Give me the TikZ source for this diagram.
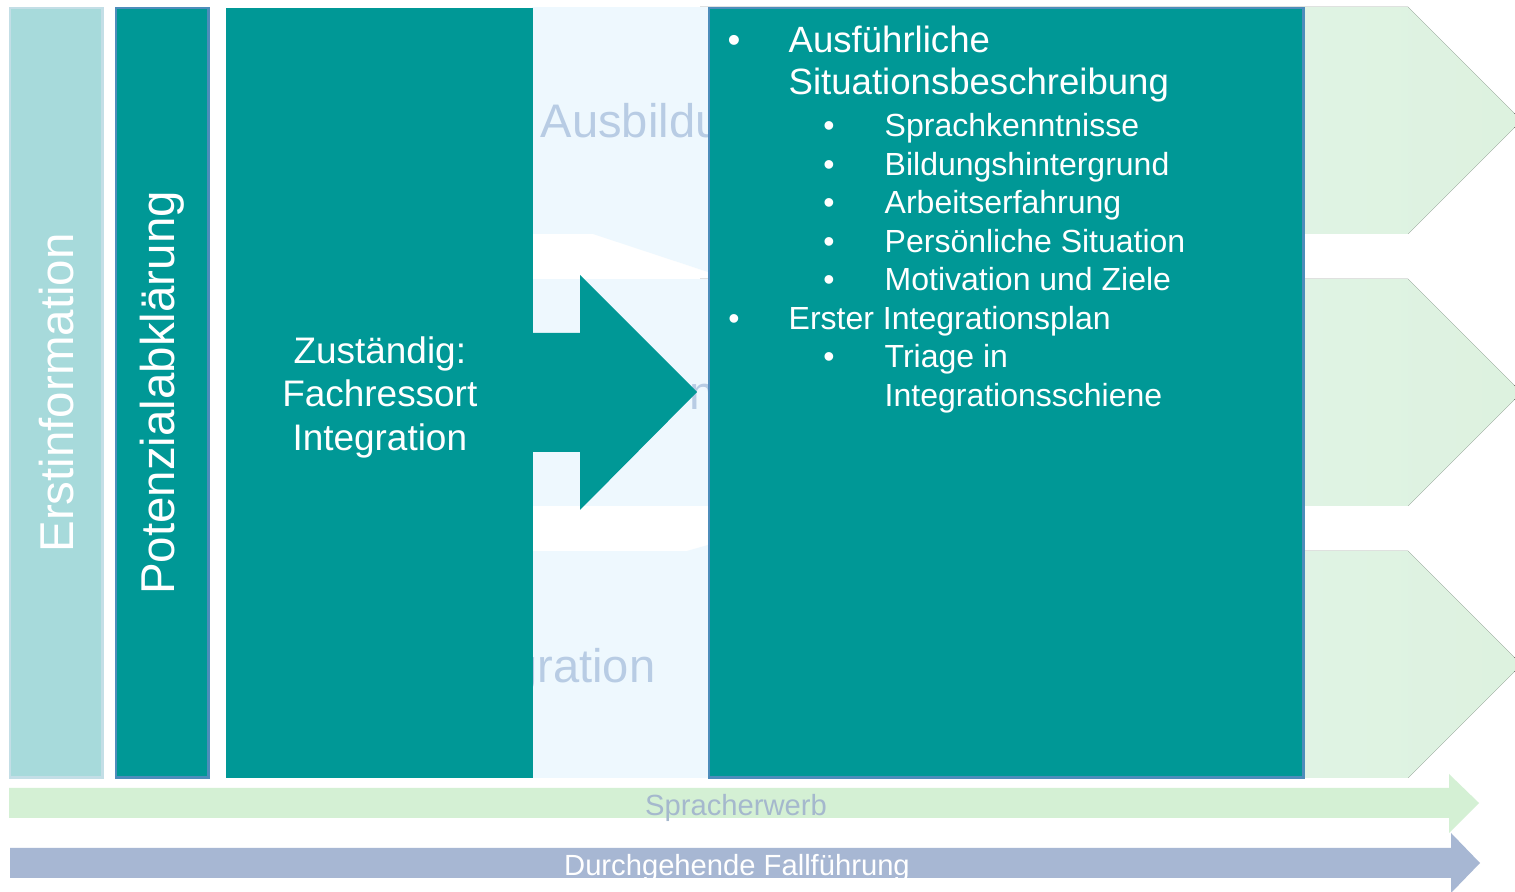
\documentclass[tikz,border=0pt]{standalone}
\usepackage{fontspec}
\setmainfont{Liberation Sans}
\usepackage{tikz}
\usetikzlibrary{positioning, calc}
\definecolor{fteal}{HTML}{009896}
\definecolor{lteal}{HTML}{A7DADB}
\definecolor{bedge}{HTML}{4D8DBB}
\definecolor{ledge}{HTML}{C3DEE6}
\definecolor{pblue}{HTML}{EEF8FE}
\definecolor{pgreen}{HTML}{DDF2DF}
\definecolor{ghost}{HTML}{B8CCE4}
\definecolor{sgreen}{HTML}{D4F0D4}
\definecolor{sblue}{HTML}{A7B7D3}

\begin{document}
\begin{tikzpicture}[x=0.01cm, y=-0.01cm,
  phase/.style={anchor=north west, minimum height=7.69cm, inner sep=0pt, line width=0.7pt},
  vlabel/.style={rotate=90, text=white, inner sep=0pt, font=\fontsize{13.5}{16}\selectfont},
  ghosttext/.style={inner sep=0pt, text=ghost, font=\fontsize{13.4}{16}\selectfont},
  topitem/.style={anchor=base west, inner sep=0pt, text=white, font=\fontsize{10.4}{12}\selectfont},
  item/.style={anchor=base west, inner sep=0pt, text=white, font=\fontsize{9.1}{11}\selectfont},
  dot/.style={anchor=base, inner sep=0pt, text=white, font=\fontsize{9.1}{11}\selectfont},
  bandtext/.style={inner sep=0pt, font=\fontsize{8.3}{10}\selectfont}]
\clip (0,0) rectangle (1515,892);
\fill[white] (0,0) rectangle (1515,892);

% Zeilen im Hintergrund
\foreach \t in {7,279,551} {
  \fill[left color=pblue!60!pgreen, right color=pgreen] (700,\t) -- (1408,\t) -- (1521.5,\t+113.5) -- (1408,\t+227) -- (700,\t+227) -- cycle;
  \fill[pblue] (532,\t) rectangle (710,\t+227);
}
\fill[pblue] (593,234) -- (708,272) -- (708,234) -- cycle;
\fill[pblue] (687,551) -- (708,545) -- (708,551) -- cycle;
\begin{scope}
\clip (532,7) rectangle (708,776);
\node[ghosttext, anchor=base west] (ausb) at (540,138) {Ausbildung};
\node[ghosttext, anchor=base west] (mid) at (689,410) {n};
\node[ghosttext, anchor=base east] (integ) at (656,683) {Integration};
\end{scope}

% Phasen
\node[phase, fill=lteal, draw=ledge, minimum width=0.92cm] (erst) at (9,7) {};
\node[phase, fill=fteal, draw=bedge, minimum width=0.92cm] (pot) at (115,7) {};
\node[phase, fill=fteal, minimum width=3.07cm] (zust) at (225,7) {};
\node[phase, fill=fteal, draw=bedge, minimum width=5.94cm] (det) at (708,7) {};
\node[vlabel] (erstlbl) at (erst.center) {Erstinformation};
\node[vlabel] (potlbl) at (pot.center) {Potenzialabklärung};
\node[align=center, text=white, font=\fontsize{10.5}{12.5}\selectfont] (zustlbl) at ($(zust.center)+(0,4.5)$) {Zuständig:\\Fachressort\\Integration};

% Pfeil
\coordinate (tip) at (697,392);
\fill[fteal] ($(zust.east |- 0,333)+(-5,0)$) -- (580,333) -- (580,275) -- (tip) -- (580,510) -- (580,452) -- ($(zust.east |- 0,452)+(-5,0)$) -- cycle;

% Inhalt
\node[dot, font=\fontsize{10.4}{12}\selectfont] (b1) at (734,53) {•};
\node[topitem] (t1) at (788,53) {Ausführliche};
\node[topitem] (t2) at (788,95) {Situationsbeschreibung};
\foreach \y/\txt [count=\i] in {137/Sprachkenntnisse, 175.5/Bildungshintergrund, 214/Arbeitserfahrung, 252.5/Persönliche Situation, 291/Motivation und Ziele} {
  \node[dot] (sb\i) at (829,\y) {•};
  \node[item] (s\i) at (884,\y) {\txt};
}
\node[dot] (b2) at (734,329.5) {•};
\node[item] (t3) at (788,329.5) {Erster Integrationsplan};
\node[dot] (sb6) at (829,368) {•};
\node[item] (s6) at (884,368) {Triage in};
\node[item] (s7) at (884,406.5) {Integrationsschiene};

% Querschnitt
\fill[sgreen] (9,788) -- (1449,788) -- (1449,774) -- (1479,803) -- (1449,833) -- (1449,818) -- (9,818) -- cycle;
\node[bandtext, text=ghost!90!black] (sprach) at (736,808) {Spracherwerb};
\fill[sblue] (10,848) -- (1451,848) -- (1451,833) -- (1480,863) -- (1451,893) -- (1451,878) -- (10,878) -- cycle;
\node[bandtext, text=white] (fall) at (737,868) {Durchgehende Fallführung};
\end{tikzpicture}
\end{document}
